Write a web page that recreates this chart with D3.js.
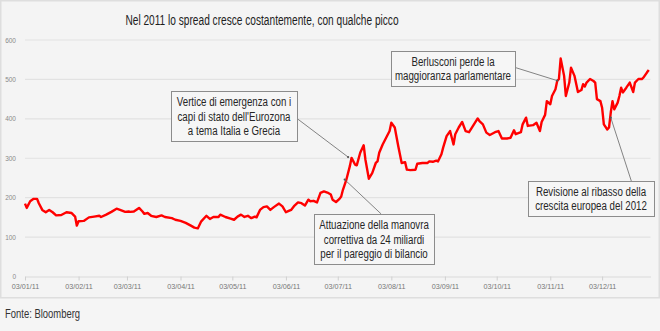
<!DOCTYPE html>
<html>
<head>
<meta charset="utf-8">
<script src="https://cdn.jsdelivr.net/npm/d3@7/dist/d3.min.js"></script>
<style>
  html, body { margin: 0; padding: 0; background: #f5f5f5; }
  svg { display: block; }
</style>
</head>
<body>
<svg id="chart" width="660" height="331"></svg>
<script>
// BTP-Bund spread, 2011 (basis points)
const dates = [
  "2011-01-03","2011-01-04","2011-01-06","2011-01-08","2011-01-10","2011-01-11","2011-01-13","2011-01-15",
  "2011-01-17","2011-01-19","2011-01-21","2011-01-24","2011-01-27","2011-01-30","2011-02-01","2011-02-02",
  "2011-02-03","2011-02-06","2011-02-09","2011-02-12","2011-02-15","2011-02-16","2011-02-19","2011-02-22",
  "2011-02-25","2011-02-27","2011-03-02","2011-03-04","2011-03-05","2011-03-07","2011-03-10","2011-03-12",
  "2011-03-13","2011-03-15","2011-03-17","2011-03-20","2011-03-23","2011-03-25","2011-03-29","2011-03-31",
  "2011-04-03","2011-04-06","2011-04-09","2011-04-11","2011-04-13","2011-04-15","2011-04-18","2011-04-20",
  "2011-04-22","2011-04-25","2011-04-26","2011-04-29","2011-05-02","2011-05-04","2011-05-06","2011-05-08",
  "2011-05-10","2011-05-12","2011-05-14","2011-05-16","2011-05-17","2011-05-19","2011-05-21","2011-05-23",
  "2011-05-25","2011-05-27","2011-05-30","2011-06-01","2011-06-03","2011-06-04","2011-06-06","2011-06-08",
  "2011-06-10","2011-06-12","2011-06-14","2011-06-16","2011-06-17","2011-06-19","2011-06-21","2011-06-23",
  "2011-06-25","2011-06-27","2011-06-29","2011-06-30","2011-07-02","2011-07-04","2011-07-05","2011-07-06",
  "2011-07-08","2011-07-10","2011-07-11","2011-07-13","2011-07-14","2011-07-16","2011-07-18","2011-07-19",
  "2011-07-21","2011-07-23","2011-07-25","2011-07-26","2011-07-27","2011-07-29","2011-07-31","2011-08-02",
  "2011-08-03","2011-08-05","2011-08-07","2011-08-09","2011-08-11","2011-08-12","2011-08-14","2011-08-17",
  "2011-08-18","2011-08-21","2011-08-24","2011-08-25","2011-08-27","2011-08-29","2011-08-30","2011-09-01",
  "2011-09-02","2011-09-04","2011-09-06","2011-09-08","2011-09-09","2011-09-11","2011-09-13","2011-09-15",
  "2011-09-17","2011-09-19","2011-09-22","2011-09-23","2011-09-25","2011-09-27","2011-09-29","2011-10-02",
  "2011-10-04","2011-10-06","2011-10-09","2011-10-11","2011-10-13","2011-10-14","2011-10-17","2011-10-18",
  "2011-10-20","2011-10-21","2011-10-24","2011-10-26","2011-10-28","2011-10-29","2011-10-31","2011-11-01",
  "2011-11-03","2011-11-04","2011-11-06","2011-11-07","2011-11-08","2011-11-09","2011-11-11","2011-11-12",
  "2011-11-13","2011-11-14","2011-11-15","2011-11-17","2011-11-19","2011-11-21","2011-11-22","2011-11-23",
  "2011-11-24","2011-11-26","2011-11-28","2011-11-29","2011-11-30","2011-12-02","2011-12-03","2011-12-04",
  "2011-12-06","2011-12-07","2011-12-08","2011-12-09","2011-12-10","2011-12-12","2011-12-13","2011-12-14",
  "2011-12-15","2011-12-17","2011-12-19","2011-12-21","2011-12-22","2011-12-24","2011-12-26","2011-12-27",
  "2011-12-29","2011-12-30"
];
const spread = [
  185,174,191,197,197,186,169,163,
  169,163,155,156,163,161,152,129,
  140,141,150,152,154,151,157,164,
  172,169,164,165,164,165,174,165,
  159,161,154,151,155,151,148,144,
  141,136,129,124,122,140,154,146,
  151,151,157,151,147,144,152,157,
  151,154,148,152,150,169,176,178,
  169,176,185,178,163,165,169,180,
  188,186,180,195,191,192,188,212,
  216,213,208,195,189,197,203,220,
  246,280,301,284,282,314,333,297,
  248,263,288,292,314,335,352,369,
  390,378,331,288,290,271,270,271,
  286,288,288,292,291,294,292,310,
  327,356,369,335,361,378,392,369,
  366,380,401,394,386,365,359,366,
  369,350,350,352,371,361,366,386,
  403,382,384,390,369,392,410,445,
  437,458,475,496,501,553,509,458,
  475,492,530,509,468,473,488,482,
  492,501,496,492,450,445,428,386,
  373,378,416,445,424,441,458,479,
  467,479,492,468,492,501,501,505,
  518,524
];

const yTicks = [0, 100, 200, 300, 400, 500, 600];
const xTickDates = ["2011-01-03","2011-02-03","2011-03-03","2011-04-03","2011-05-03","2011-06-03",
                    "2011-07-03","2011-08-03","2011-09-03","2011-10-03","2011-11-03","2011-12-03"];

const titleText = "Nel 2011 lo spread cresce costantemente, con qualche picco";
const sourceText = "Fonte: Bloomberg";

// Callouts: text lines, the point on the curve they refer to, and where the box sits
const notes = [
  { lines: ["Vertice di emergenza con i", "capi di stato dell'Eurozona", "a tema Italia e Grecia"],
    date: "2011-07-09", value: 303, box: [171, 91, 126, 50], leader: [1, 0.55] },
  { lines: ["Berlusconi perde la", "maggioranza parlamentare"],
    date: "2011-11-07", value: 497, box: [391, 51, 124, 35], leader: [1, 0.47] },
  { lines: ["Attuazione della manovra", "correttiva da 24 miliardi", "per il pareggio di bilancio"],
    date: "2011-07-07", value: 246, box: [314, 214, 120, 50], leader: [0.56, 0] },
  { lines: ["Revisione al ribasso della", "crescita europea del 2012"],
    date: "2011-12-08", value: 403, box: [528, 181, 126, 35], leader: [0.82, 0] }
];

// condensed sans: regular face squeezed horizontally
const FONT = "Liberation Sans, Arial, sans-serif";

function narrowText(parent, tx, ty, str, size, color, anchor, squeeze) {
  const g = parent.append("g").attr("transform", `translate(${tx},${ty}) scale(${squeeze},1)`);
  g.append("text")
    .attr("text-anchor", anchor || "start")
    .attr("font-family", FONT)
    .attr("font-size", size)
    .attr("fill", color)
    .text(str);
  return g;
}

const parse = d3.timeParse("%Y-%m-%d");
const data = dates.map((d, i) => ({ date: parse(d), value: spread[i] }));

const svg = d3.select("#chart");
const W = 660, H = 331;

// panel background and frame
svg.append("rect").attr("x", 0).attr("y", 0).attr("width", W).attr("height", H).attr("fill", "#f5f5f5");
svg.append("rect").attr("x", 0.75).attr("y", 0.75).attr("width", W - 1.5).attr("height", 297)
  .attr("fill", "#f4f4f4").attr("stroke", "#dedede").attr("stroke-width", 1.5);

const x = d3.scaleTime()
  .domain([parse("2011-01-03"), parse("2011-12-31")])
  .range([25, 650.5]);
const y = d3.scaleLinear().domain([0, 600]).range([276.5, 40]);

// horizontal gridlines
svg.append("g").selectAll("line").data(yTicks.filter(t => t > 0)).join("line")
  .attr("x1", x.range()[0]).attr("x2", x.range()[1])
  .attr("y1", d => y(d)).attr("y2", d => y(d))
  .attr("stroke", "#e2e2e2").attr("stroke-width", 1.2);

// y axis labels
const yAxis = d3.axisLeft(y).tickValues(yTicks).tickSize(0).tickPadding(9);
const gy = svg.append("g").attr("transform", `translate(${x.range()[0]},0)`).call(yAxis);
gy.select(".domain").remove();
gy.selectAll("text").attr("fill", "#8a8a8a").attr("font-size", 6.5).attr("font-family", FONT);

// x axis
const xAxis = d3.axisBottom(x)
  .tickValues(xTickDates.map(parse))
  .tickFormat(d3.timeFormat("%d/%m/%y"))
  .tickSize(4).tickSizeOuter(0).tickPadding(3);
const gx = svg.append("g").attr("transform", `translate(0,${y(0)})`).call(xAxis);
gx.select(".domain").attr("stroke", "#dadada").attr("stroke-width", 1.2);
gx.selectAll(".tick line").attr("stroke", "#d0d0d0");
gx.selectAll("text").attr("fill", "#777").attr("font-size", 7.2).attr("font-family", FONT);

// spread line
const line = d3.line().x(d => x(d.date)).y(d => y(d.value)).curve(d3.curveLinear);
svg.append("path").datum(data)
  .attr("d", line)
  .attr("fill", "none")
  .attr("stroke", "#ff0000")
  .attr("stroke-width", 2.4)
  .attr("stroke-linejoin", "round");

// title
narrowText(svg, 262, 24.5, titleText, 14.5, "#1e1e1e", "middle", 0.7);

// callouts
const gNotes = svg.append("g");
notes.forEach(n => {
  const [bx, by, bw, bh] = n.box;
  const px = x(parse(n.date)), py = y(n.value);
  gNotes.append("line")
    .attr("x1", bx + bw * n.leader[0]).attr("y1", by + bh * n.leader[1])
    .attr("x2", px).attr("y2", py)
    .attr("stroke", "#666").attr("stroke-width", 0.8);
  gNotes.append("circle").attr("cx", px).attr("cy", py).attr("r", 1.1).attr("fill", "#555");
  gNotes.append("rect")
    .attr("x", bx + 0.5).attr("y", by + 0.5).attr("width", bw).attr("height", bh)
    .attr("fill", "#f6f6f6").attr("stroke", "#8c8c8c").attr("stroke-width", 1);
  const lh = n.lines.length === 3 ? 14.5 : 14;
  const top = by + bh / 2 - (n.lines.length - 1) * lh / 2 + 4.8;
  n.lines.forEach((t, i) => {
    narrowText(gNotes, bx + bw / 2, top + i * lh, t, 13.5, "#262626", "middle", 0.72);
  });
});

// source
narrowText(svg, 5, 317.5, sourceText, 13.5, "#333", "start", 0.7);
</script>
</body>
</html>
